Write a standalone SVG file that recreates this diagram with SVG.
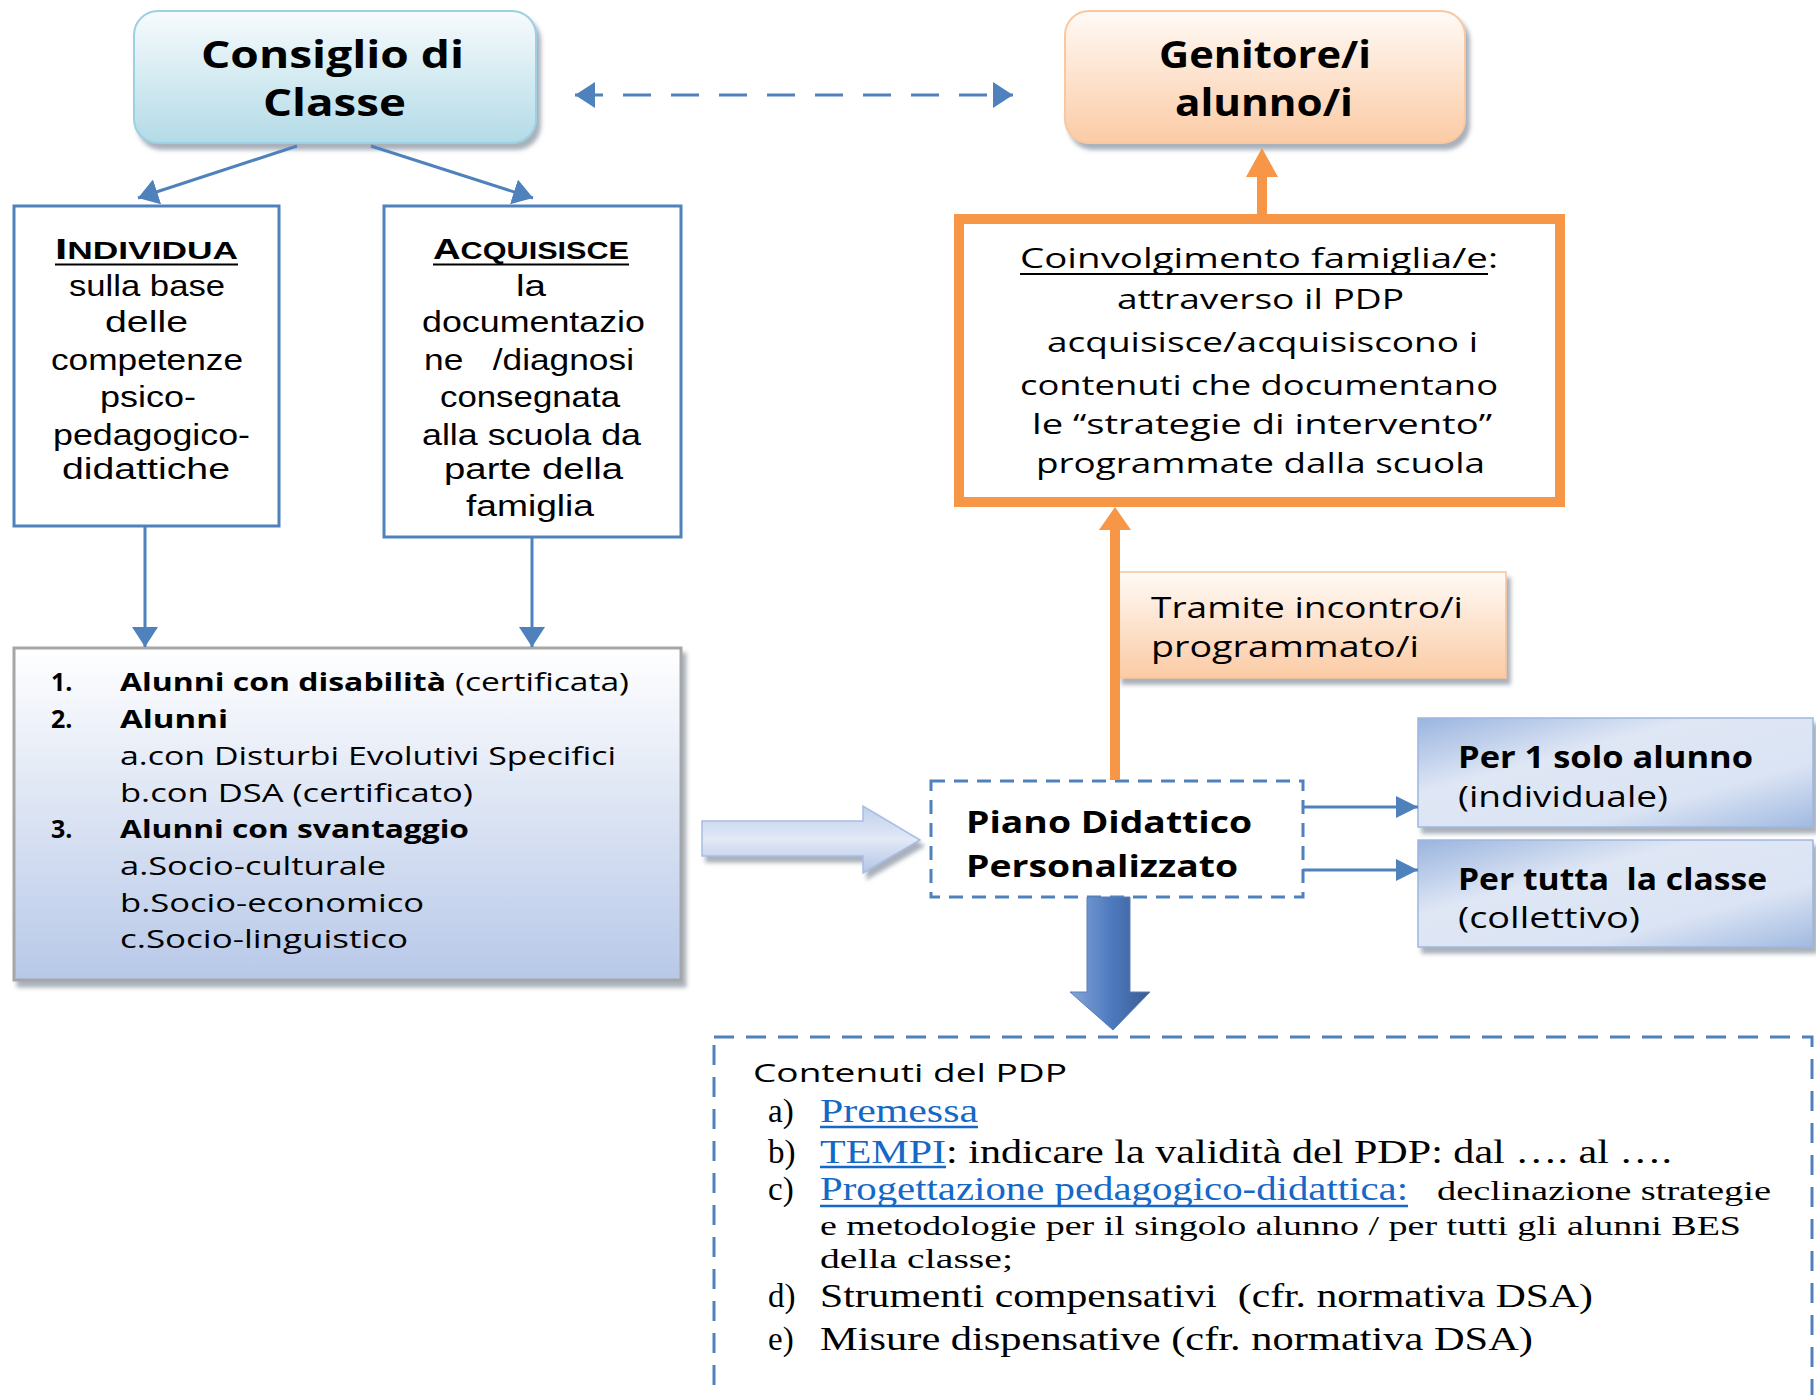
<svg xmlns="http://www.w3.org/2000/svg" width="1816" height="1395" viewBox="0 0 1816 1395">
<defs>
  <linearGradient id="gBlueTop" x1="0" y1="0" x2="0" y2="1">
    <stop offset="0" stop-color="#f7fbfd"/><stop offset="1" stop-color="#b3dbe7"/>
  </linearGradient>
  <linearGradient id="gOrange" x1="0" y1="0" x2="0" y2="1">
    <stop offset="0" stop-color="#fffaf6"/><stop offset="1" stop-color="#fbcba5"/>
  </linearGradient>
  <linearGradient id="gList" x1="0" y1="0" x2="0" y2="1">
    <stop offset="0" stop-color="#ffffff"/><stop offset="1" stop-color="#b7c8e8"/>
  </linearGradient>
  <linearGradient id="gPer" x1="0" y1="0" x2="1" y2="1">
    <stop offset="0" stop-color="#9ab4df"/><stop offset="0.35" stop-color="#dfe7f5"/><stop offset="0.7" stop-color="#dbe4f4"/><stop offset="1" stop-color="#a1bae1"/>
  </linearGradient>
  <linearGradient id="gArrowR" x1="0" y1="0" x2="0" y2="1">
    <stop offset="0" stop-color="#bfcfec"/><stop offset="0.5" stop-color="#e2e9f7"/><stop offset="1" stop-color="#b2c4e6"/>
  </linearGradient>
  <linearGradient id="gArrowD" x1="0" y1="0" x2="1" y2="0">
    <stop offset="0" stop-color="#86a6da"/><stop offset="0.5" stop-color="#4e7bbf"/><stop offset="1" stop-color="#3b5c92"/>
  </linearGradient>
  <filter id="shadow" x="-10%" y="-10%" width="125%" height="130%">
    <feDropShadow dx="4" dy="6" stdDeviation="2" flood-color="#7a8797" flood-opacity="0.65"/>
  </filter>
  <marker id="ah" viewBox="0 0 10 13" markerUnits="userSpaceOnUse" markerWidth="20" markerHeight="26" refX="10" refY="6.5" orient="auto-start-reverse">
    <path d="M0,0 L10,6.5 L0,13 z" fill="#4f81bd"/>
  </marker>
  <marker id="ahs" viewBox="0 0 10 10" markerUnits="userSpaceOnUse" markerWidth="24" markerHeight="22" refX="10" refY="5" orient="auto">
    <path d="M0,0 L10,5 L0,10 z" fill="#4f81bd"/>
  </marker>
</defs>
<style>
  .s { font-family: "Open Sans", "Liberation Sans", sans-serif; fill: #000; }
  .l { font-family: "Liberation Sans", Arial, sans-serif; fill: #000; }
  .b { font-weight: bold; }
  .r { font-family: "Liberation Serif", "Times New Roman", serif; fill: #000; }
  .lnk { fill: #1668c7; }
  .conn { fill: none; stroke: #4f81bd; stroke-width: 3; }
  .orange { fill: #f79646; }
  .ul { stroke: #000; stroke-width: 2; }
  .ulb { stroke: #1668c7; stroke-width: 2.5; }
</style>

<g id="node-consiglio">
  <rect x="134" y="11" width="402" height="132" rx="24" fill="url(#gBlueTop)" stroke="#9dd0e1" stroke-width="2" filter="url(#shadow)"/>
  <text class="s b" x="201" y="68" font-size="38" textLength="263" lengthAdjust="spacingAndGlyphs">Consiglio di</text>
  <text class="s b" x="263" y="116" font-size="38" textLength="143" lengthAdjust="spacingAndGlyphs">Classe</text>
</g>

<g id="node-genitore">
  <rect x="1065" y="11" width="400" height="132" rx="24" fill="url(#gOrange)" stroke="#fac8a0" stroke-width="2" filter="url(#shadow)"/>
  <text class="s b" x="1159" y="68" font-size="38" textLength="212" lengthAdjust="spacingAndGlyphs">Genitore/i</text>
  <text class="s b" x="1175" y="116" font-size="38" textLength="178" lengthAdjust="spacingAndGlyphs">alunno/i</text>
</g>

<g id="node-individua">
  <rect x="14" y="206" width="265" height="320" fill="#fff" stroke="#4f81bd" stroke-width="3"/>
  <text class="l b" x="55" y="259" textLength="183" lengthAdjust="spacingAndGlyphs"><tspan font-size="30">I</tspan><tspan font-size="24">NDIVIDUA</tspan></text>
  <line class="ul" x1="55" y1="264.5" x2="238" y2="264.5"/>
  <text class="l" x="69" y="296" font-size="29" textLength="156" lengthAdjust="spacingAndGlyphs">sulla base</text>
  <text class="l" x="105" y="332" font-size="29" textLength="83" lengthAdjust="spacingAndGlyphs">delle</text>
  <text class="l" x="51" y="370" font-size="29" textLength="192" lengthAdjust="spacingAndGlyphs">competenze</text>
  <text class="l" x="100" y="407" font-size="29" textLength="96" lengthAdjust="spacingAndGlyphs">psico-</text>
  <text class="l" x="53" y="445" font-size="29" textLength="197" lengthAdjust="spacingAndGlyphs">pedagogico-</text>
  <text class="l" x="62" y="479" font-size="29" textLength="168" lengthAdjust="spacingAndGlyphs">didattiche</text>
</g>

<g id="node-acquisisce">
  <rect x="384" y="206" width="297" height="331" fill="#fff" stroke="#4f81bd" stroke-width="3"/>
  <text class="l b" x="433" y="259" textLength="196" lengthAdjust="spacingAndGlyphs"><tspan font-size="30">A</tspan><tspan font-size="24">CQUISISCE</tspan></text>
  <line class="ul" x1="433" y1="264.5" x2="629" y2="264.5"/>
  <text class="l" x="516" y="296" font-size="29" textLength="30" lengthAdjust="spacingAndGlyphs">la</text>
  <text class="l" x="422" y="332" font-size="29" textLength="223" lengthAdjust="spacingAndGlyphs">documentazio</text>
  <text class="l" x="424" y="370" font-size="29" textLength="210" lengthAdjust="spacingAndGlyphs" xml:space="preserve">ne   /diagnosi</text>
  <text class="l" x="440" y="407" font-size="29" textLength="180" lengthAdjust="spacingAndGlyphs">consegnata</text>
  <text class="l" x="422" y="445" font-size="29" textLength="219" lengthAdjust="spacingAndGlyphs">alla scuola da</text>
  <text class="l" x="444" y="479" font-size="29" textLength="179" lengthAdjust="spacingAndGlyphs">parte della</text>
  <text class="l" x="466" y="516" font-size="29" textLength="128" lengthAdjust="spacingAndGlyphs">famiglia</text>
</g>

<g id="node-alunni">
  <rect x="14" y="648" width="667" height="332" fill="url(#gList)" stroke="#a6a6a6" stroke-width="3" filter="url(#shadow)"/>
  <text class="s b" x="51" y="691" font-size="25">1.</text>
  <text class="s b" x="120" y="691" font-size="25" textLength="326" lengthAdjust="spacingAndGlyphs">Alunni con disabilità</text>
  <text class="s" x="455" y="691" font-size="25" textLength="174" lengthAdjust="spacingAndGlyphs">(certificata)</text>
  <text class="s b" x="51" y="728" font-size="25">2.</text>
  <text class="s b" x="120" y="728" font-size="25" textLength="108" lengthAdjust="spacingAndGlyphs">Alunni</text>
  <text class="s" x="120" y="765" font-size="25" textLength="496" lengthAdjust="spacingAndGlyphs">a.con Disturbi Evolutivi Specifici</text>
  <text class="s" x="120" y="802" font-size="25" textLength="353" lengthAdjust="spacingAndGlyphs">b.con DSA (certificato)</text>
  <text class="s b" x="51" y="838" font-size="25">3.</text>
  <text class="s b" x="120" y="838" font-size="25" textLength="349" lengthAdjust="spacingAndGlyphs">Alunni con svantaggio</text>
  <text class="s" x="120" y="875" font-size="25" textLength="266" lengthAdjust="spacingAndGlyphs">a.Socio-culturale</text>
  <text class="s" x="120" y="912" font-size="25" textLength="304" lengthAdjust="spacingAndGlyphs">b.Socio-economico</text>
  <text class="s" x="120" y="948" font-size="25" textLength="288" lengthAdjust="spacingAndGlyphs">c.Socio-linguistico</text>
</g>

<g id="node-coinvolgimento">
  <rect x="959" y="219" width="601" height="283" fill="#fff" stroke="#f79646" stroke-width="10"/>
  <text class="s" x="1020" y="268" font-size="28" textLength="478" lengthAdjust="spacingAndGlyphs">Coinvolgimento famiglia/e:</text>
  <line class="ul" x1="1020" y1="274" x2="1488" y2="274"/>
  <text class="s" x="1117" y="309" font-size="28" textLength="287" lengthAdjust="spacingAndGlyphs">attraverso il PDP</text>
  <text class="s" x="1047" y="352" font-size="28" textLength="431" lengthAdjust="spacingAndGlyphs">acquisisce/acquisiscono i</text>
  <text class="s" x="1020" y="395" font-size="28" textLength="478" lengthAdjust="spacingAndGlyphs">contenuti che documentano</text>
  <text class="s" x="1032" y="434" font-size="28" textLength="460" lengthAdjust="spacingAndGlyphs">le “strategie di intervento”</text>
  <text class="s" x="1036" y="473" font-size="28" textLength="449" lengthAdjust="spacingAndGlyphs">programmate dalla scuola</text>
</g>

<g id="node-tramite">
  <rect x="1118" y="572" width="388" height="106" fill="url(#gOrange)" stroke="#f9c59b" stroke-width="1.5" filter="url(#shadow)"/>
  <text class="s" x="1151" y="618" font-size="29" textLength="312" lengthAdjust="spacingAndGlyphs">Tramite incontro/i</text>
  <text class="s" x="1151" y="657" font-size="29" textLength="268" lengthAdjust="spacingAndGlyphs">programmato/i</text>
</g>

<g id="node-pdp">
  <rect x="931" y="781" width="372" height="116" fill="#fff" stroke="#4f81bd" stroke-width="3" stroke-dasharray="14 9"/>
  <text class="s b" x="966" y="833" font-size="30" textLength="286" lengthAdjust="spacingAndGlyphs">Piano Didattico</text>
  <text class="s b" x="966" y="877" font-size="30" textLength="272" lengthAdjust="spacingAndGlyphs">Personalizzato</text>
</g>

<g id="node-per1">
  <rect x="1418" y="718" width="395" height="109" fill="url(#gPer)" stroke="#9db7e0" stroke-width="1.5" filter="url(#shadow)"/>
  <text class="s b" x="1458" y="768" font-size="30" textLength="295" lengthAdjust="spacingAndGlyphs">Per 1 solo alunno</text>
  <text class="s" x="1458" y="807" font-size="30" textLength="210" lengthAdjust="spacingAndGlyphs">(individuale)</text>
</g>

<g id="node-pertutta">
  <rect x="1418" y="840" width="395" height="107" fill="url(#gPer)" stroke="#9db7e0" stroke-width="1.5" filter="url(#shadow)"/>
  <text class="s b" x="1458" y="890" font-size="30" textLength="309" lengthAdjust="spacingAndGlyphs" xml:space="preserve">Per tutta  la classe</text>
  <text class="s" x="1458" y="928" font-size="30" textLength="182" lengthAdjust="spacingAndGlyphs">(collettivo)</text>
</g>

<g id="node-contenuti">
  <rect x="714" y="1037" width="1098" height="420" fill="#fff" stroke="#4f81bd" stroke-width="3" stroke-dasharray="20 12"/>
  <text class="s" x="753" y="1082" font-size="25" textLength="314" lengthAdjust="spacingAndGlyphs">Contenuti del PDP</text>
  <text class="r" x="768" y="1122" font-size="33">a)</text>
  <text class="r lnk" x="820" y="1122" font-size="33" textLength="158" lengthAdjust="spacingAndGlyphs">Premessa</text>
  <line class="ulb" x1="820" y1="1127" x2="978" y2="1127"/>
  <text class="r" x="768" y="1163" font-size="33">b)</text>
  <text class="r lnk" x="820" y="1163" font-size="33" textLength="126" lengthAdjust="spacingAndGlyphs">TEMPI</text>
  <line class="ulb" x1="820" y1="1167" x2="946" y2="1167"/>
  <text class="r" x="946" y="1163" font-size="33" textLength="726" lengthAdjust="spacingAndGlyphs">: indicare la validità del PDP: dal …. al ….</text>
  <text class="r" x="768" y="1200" font-size="33">c)</text>
  <text class="r lnk" x="820" y="1200" font-size="33" textLength="588" lengthAdjust="spacingAndGlyphs">Progettazione pedagogico-didattica:</text>
  <line class="ulb" x1="820" y1="1206" x2="1408" y2="1206"/>
  <text class="r" x="1437" y="1200" font-size="28" textLength="334" lengthAdjust="spacingAndGlyphs">declinazione strategie</text>
  <text class="r" x="820" y="1235" font-size="28" textLength="921" lengthAdjust="spacingAndGlyphs">e metodologie per il singolo alunno / per tutti gli alunni BES</text>
  <text class="r" x="820" y="1268" font-size="28" textLength="193" lengthAdjust="spacingAndGlyphs">della classe;</text>
  <text class="r" x="768" y="1307" font-size="33">d)</text>
  <text class="r" x="820" y="1307" font-size="33" textLength="773" lengthAdjust="spacingAndGlyphs" xml:space="preserve">Strumenti compensativi  (cfr. normativa DSA)</text>
  <text class="r" x="768" y="1350" font-size="33">e)</text>
  <text class="r" x="820" y="1350" font-size="33" textLength="713" lengthAdjust="spacingAndGlyphs">Misure dispensative (cfr. normativa DSA)</text>
</g>

<g id="connectors">
  <line class="conn" x1="297" y1="146" x2="138" y2="198" marker-end="url(#ah)"/>
  <line class="conn" x1="371" y1="146" x2="533" y2="198" marker-end="url(#ah)"/>
  <line class="conn" x1="145" y1="526" x2="145" y2="647" marker-end="url(#ah)"/>
  <line class="conn" x1="532" y1="537" x2="532" y2="647" marker-end="url(#ah)"/>
  <line class="conn" x1="575" y1="95" x2="1013" y2="95" stroke-width="4" stroke-dasharray="28 20" marker-start="url(#ah)" marker-end="url(#ah)"/>
  <line class="conn" x1="1303" y1="807" x2="1418" y2="807" marker-end="url(#ahs)"/>
  <line class="conn" x1="1303" y1="870" x2="1418" y2="870" marker-end="url(#ahs)"/>
  <path class="orange" d="M1257,214 L1257,177 L1246,177 L1262,148 L1278,177 L1267,177 L1267,214 Z"/>
  <path class="orange" d="M1110,780 L1110,530 L1099,530 L1115,507 L1131,530 L1120,530 L1120,780 Z"/>
  <path d="M702,821 L863,821 L863,806 L920,840 L863,873 L863,856 L702,856 Z" fill="url(#gArrowR)" stroke="#a9bde2" stroke-width="1.5" filter="url(#shadow)"/>
  <path d="M1087,897 L1130,897 L1130,992 L1150,992 L1113,1030 L1070,992 L1087,992 Z" fill="url(#gArrowD)" stroke="#5a7fb8" stroke-width="1"/>
</g>
</svg>
